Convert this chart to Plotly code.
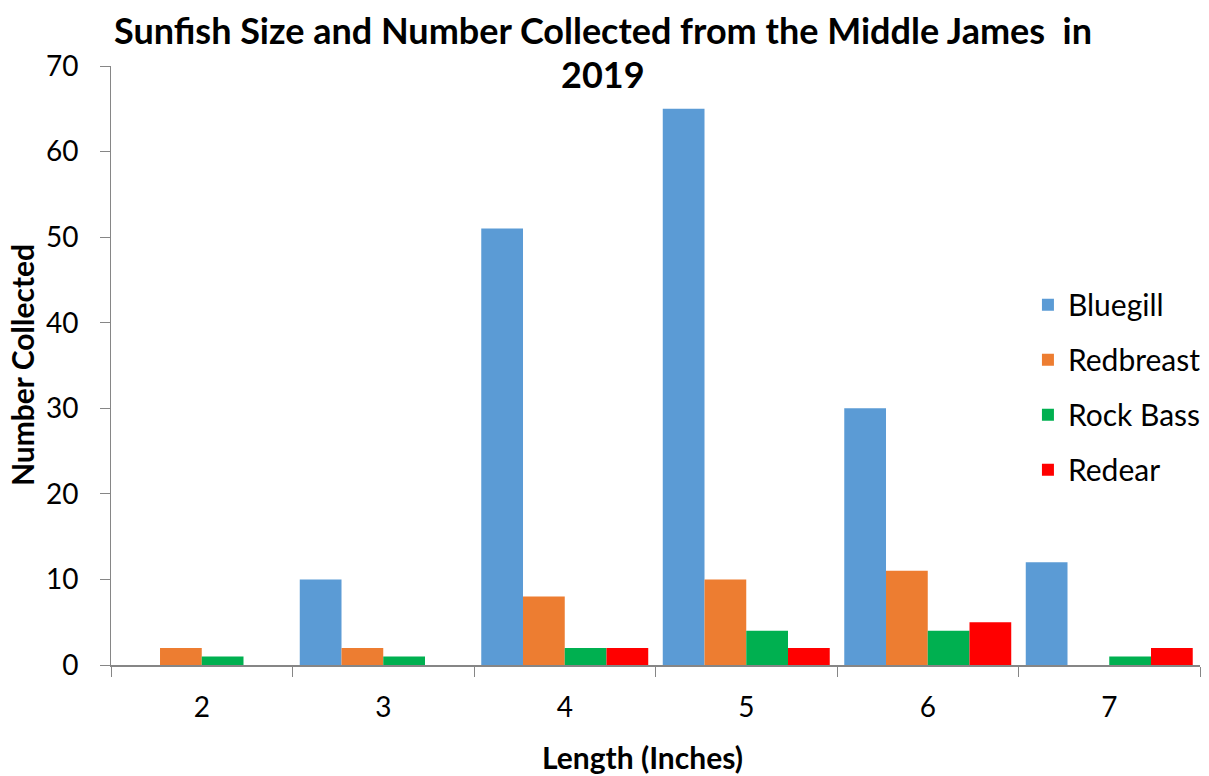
import plotly.graph_objects as go

lengths = ["2", "3", "4", "5", "6", "7"]
bluegill = [0, 10, 51, 65, 30, 12]
redbreast = [2, 2, 8, 10, 11, 0]
rock_bass = [1, 1, 2, 4, 4, 1]
redear = [0, 0, 2, 2, 5, 2]

series = [
    ("Bluegill", bluegill, "#5B9BD5"),
    ("Redbreast", redbreast, "#ED7D31"),
    ("Rock Bass", rock_bass, "#00B050"),
    ("Redear", redear, "#FF0000"),
]

title_lines = ["Sunfish Size and Number Collected from the Middle James  in", "2019"]
x_title = "Length (Inches)"
y_title = "Number Collected"

FONT = "Lato"
fig = go.Figure()
for i, (name, vals, col) in enumerate(series):
    fig.add_trace(go.Bar(
        x=lengths, y=vals, name=name, marker=dict(color=col, line=dict(width=0)),
        legendgroup=f"g{i}",
    ))

for txt, yy in zip(title_lines, [1.0601, 0.9866]):
    fig.add_annotation(
        text=f"<b>{txt}</b>", xref="paper", yref="paper", x=0.452, y=yy,
        xanchor="center", yanchor="middle", showarrow=False,
        font=dict(family=FONT, size=36, color="black"),
    )

fig.add_annotation(
    text=f"<b>{x_title}</b>", xref="paper", yref="paper", x=0.4885, y=-0.1536,
    xanchor="center", yanchor="middle", showarrow=False,
    font=dict(family=FONT, size=30, color="black"),
)
fig.add_annotation(
    text=f"<b>{y_title}</b>", xref="paper", yref="paper", x=-0.0817, y=0.5008,
    xanchor="center", yanchor="middle", showarrow=False, textangle=-90,
    font=dict(family=FONT, size=30, color="black"),
)

fig.update_layout(
    width=1209, height=776,
    paper_bgcolor="white", plot_bgcolor="white",
    margin=dict(l=111, r=9, t=66, b=111, autoexpand=False),
    barmode="group", bargap=0.08, bargroupgap=0,
    font=dict(family=FONT, size=28, color="black"),
    showlegend=True,
    legend=dict(
        x=0.842, y=0.645, xanchor="left", yanchor="top",
        font=dict(family=FONT, size=30, color="black"),
        traceorder="grouped", tracegroupgap=13,
        bgcolor="rgba(0,0,0,0)",
    ),
    xaxis=dict(
        showline=True, linecolor="#868686", linewidth=2,
        ticks="outside", ticklen=10, tickcolor="#868686", tickwidth=1,
        tickson="boundaries", showgrid=False, zeroline=False,
        ticklabelstandoff=16, automargin=False,
    ),
    yaxis=dict(
        range=[0, 70], dtick=10,
        showline=True, linecolor="#868686", linewidth=1,
        ticks="outside", ticklen=10, tickcolor="#868686",
        showgrid=False, zeroline=False,
        ticklabelstandoff=16, automargin=False,
    ),
)

fig.write_html(
    "out.html",
    config={"displayModeBar": False},
    post_script="document.body.style.margin='0';document.body.style.overflow='hidden';",
)
